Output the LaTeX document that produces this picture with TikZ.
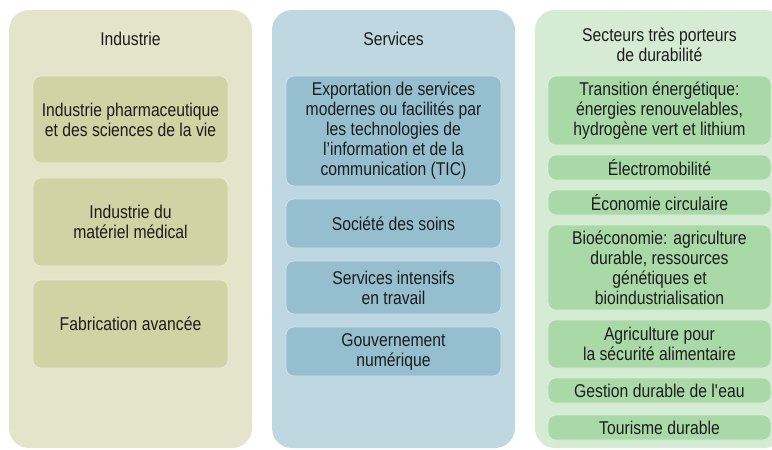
\documentclass[tikz,border=0pt]{standalone}
\usepackage{fontspec}
\setmainfont{Liberation Sans}[FakeStretch=0.85]
\begin{document}
\definecolor{indbg}{HTML}{E4E4CA}
\definecolor{indbox}{HTML}{D1D3A5}
\definecolor{serbg}{HTML}{BED7E1}
\definecolor{serbox}{HTML}{95BFCF}
\definecolor{durbg}{HTML}{D5EBD3}
\definecolor{durbox}{HTML}{AAD9A8}
\definecolor{ink}{HTML}{1C1C1C}
\tikzset{
  panel/.style={fill=#1, draw=none, rounded corners=20pt, inner sep=0pt},
  item/.style={fill=#1, draw=white!55!#1, line width=0.8pt, rounded corners=8pt,
    inner sep=0pt, align=center, text=ink,
    font=\fontsize{18.5pt}{20pt}\selectfont},
  heading/.style={align=center, text=ink, inner sep=0pt,
    font=\fontsize{18.5pt}{20pt}\selectfont},
}
\begin{tikzpicture}[x=1pt, y=-1pt]
\useasboundingbox (0,0) rectangle (772,450);
\clip (0,0) rectangle (772,450);

% column panels
\node[panel=indbg, minimum width=243pt, minimum height=438pt] (p1) at (130.5,229) {};
\node[panel=serbg, minimum width=243pt, minimum height=438pt] (p2) at (393.5,229) {};
\node[panel=durbg, minimum width=249pt, minimum height=438pt] (p3) at (659.5,229) {};

% headings
\node[heading] (h1) at (130.5,39) {Industrie};
\node[heading] (h2) at (393.5,39) {Services};
\node[heading] (h3) at (659.5,45) {Secteurs très porteurs\\de durabilité};

% Industrie
\node[item=indbox, minimum width=195pt, minimum height=87pt] (i1) at (130.5,119.5)
  {Industrie pharmaceutique\\et des sciences de la vie};
\node[item=indbox, minimum width=195pt, minimum height=88pt] (i2) at (130.5,222)
  {Industrie du\\matériel médical};
\node[item=indbox, minimum width=195pt, minimum height=88pt] (i3) at (130.5,324)
  {Fabrication avancée};

% Services
\node[item=serbox, minimum width=215pt, minimum height=110pt] (s1) at (393.5,131)
  {Exportation de services\\modernes ou facilités par\\les technologies de\\l’information et de la\\communication (TIC)};
\node[item=serbox, minimum width=215pt, minimum height=49pt] (s2) at (393.5,223.5)
  {Société des soins};
\node[item=serbox, minimum width=215pt, minimum height=53pt] (s3) at (393.5,287.5)
  {Services intensifs\\en travail};
\node[item=serbox, minimum width=215pt, minimum height=49pt] (s4) at (393.5,351.5)
  {Gouvernement\\numérique};

% Secteurs porteurs de durabilité
\node[item=durbox, minimum width=223pt, minimum height=69pt] (d1) at (659.5,110.5)
  {Transition énergétique:\\énergies renouvelables,\\hydrogène vert et lithium};
\node[item=durbox, minimum width=223pt, minimum height=25pt] (d2) at (659.5,167.5)
  {Électromobilité};
\node[item=durbox, minimum width=223pt, minimum height=25pt] (d3) at (659.5,202.5)
  {Économie circulaire};
\node[item=durbox, minimum width=223pt, minimum height=85pt] (d4) at (659.5,267.5)
  {Bioéconomie: agriculture\\durable, ressources\\génétiques et\\bioindustrialisation};
\node[item=durbox, minimum width=223pt, minimum height=48pt] (d5) at (659.5,344)
  {Agriculture pour\\la sécurité alimentaire};
\node[item=durbox, minimum width=223pt, minimum height=25pt] (d6) at (659.5,390.5)
  {Gestion durable de l\textquotesingle eau};
\node[item=durbox, minimum width=223pt, minimum height=25pt] (d7) at (659.5,427.5)
  {Tourisme durable};
\end{tikzpicture}
\end{document}
